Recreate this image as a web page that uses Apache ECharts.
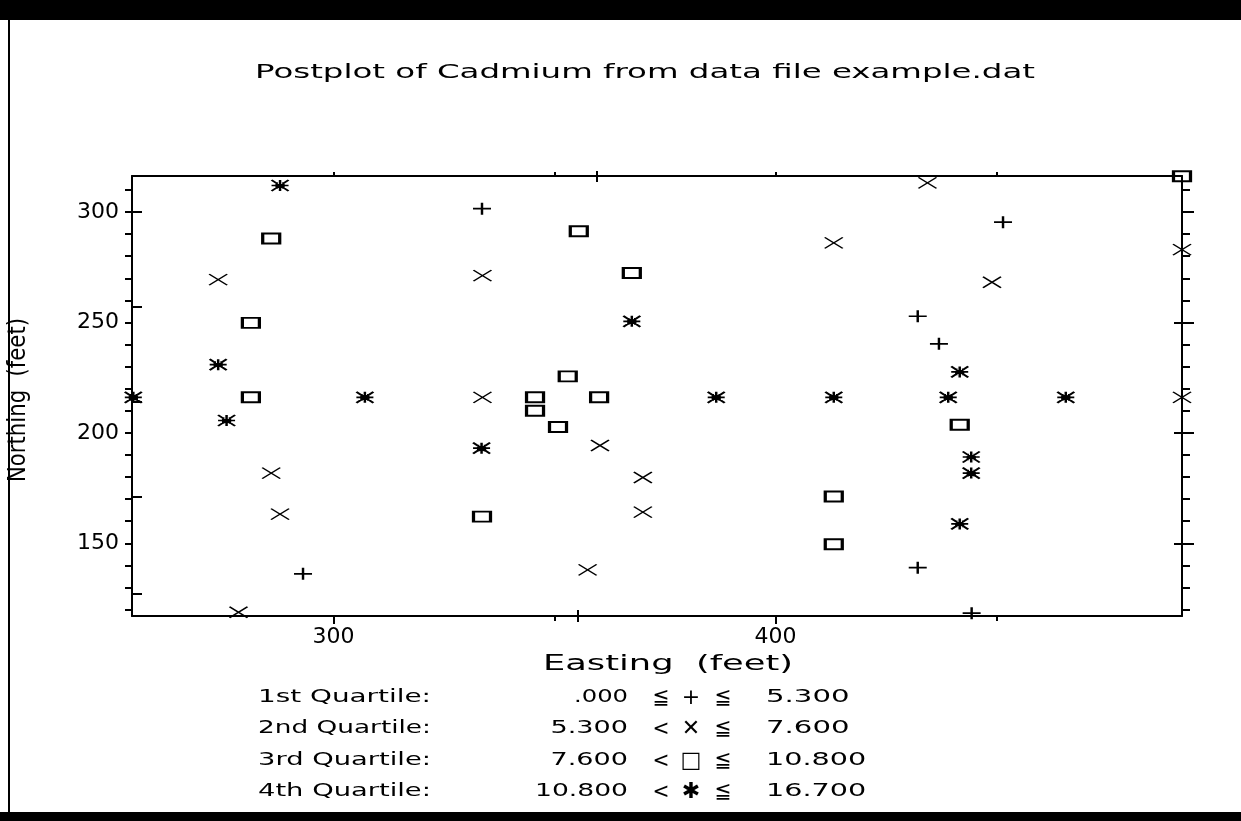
<!DOCTYPE html>
<html><head><meta charset="utf-8">
<script src="https://cdn.jsdelivr.net/npm/echarts@6/dist/echarts.min.js"></script>
<style>html,body{margin:0;padding:0;background:#fff}#c{width:1241px;height:821px}</style>
</head><body><div id="c"></div>
<script>
// ---------- data ----------
const titleText = 'Postplot of Cadmium from data file example.dat';
const xAxisName = 'Easting  (feet)';
const yAxisName = 'Northing  (feet)';
const xMin = 254.4, xMax = 492.0, yMin = 117.1, yMax = 316.3;
const xTickLabels = [300, 400];
const xMinorTicks = [350, 450];
const yTickLabels = [150, 200, 250, 300];
const yMinorTicks = [120,130,140,150,160,170,180,190,200,210,220,230,240,250,260,270,280,290,300,310];
const yOddTicks = [300, 257, 214, 171, 127];
const xOddTickBottom = [355.3];
const xOddTickTop = [359.6];

const quartileNames = ['1st Quartile:', '2nd Quartile:', '3rd Quartile:', '4th Quartile:'];
const lowerBounds = ['.000', '5.300', '7.600', '10.800'];
const lowerOps = ['\u2266', '<', '<', '<'];
const symbolGlyphs = ['+', '\u2715', '\u25A1', '\u2731'];
const upperOps = ['\u2266', '\u2266', '\u2266', '\u2266'];
const upperBounds = ['5.300', '7.600', '10.800', '16.700'];

// 1st quartile (+)
const plusX = [333.6, 293.1, 432.2, 437.0, 451.5, 432.2, 444.4];
const plusY = [301.5, 136.2, 252.8, 240.3, 295.4, 139.0, 118.4];
// 2nd quartile (x)
const crossX = [273.9, 285.9, 287.9, 278.5, 333.7, 333.7, 360.3, 370.0, 370.0, 357.5, 413.2, 434.4, 449.0, 492.0, 492.0];
const crossY = [269.4, 181.8, 163.2, 118.8, 271.2, 216.1, 194.3, 179.8, 164.1, 138.0, 286.0, 313.2, 268.2, 283.0, 216.1];
// 3rd quartile (square)
const squareX = [285.9, 281.3, 281.3, 333.6, 355.5, 367.5, 353.0, 345.6, 360.1, 345.6, 350.8, 413.2, 413.2, 441.7, 492.0];
const squareY = [288.0, 249.8, 216.1, 162.1, 291.3, 272.4, 225.6, 216.1, 216.1, 210.0, 202.7, 171.2, 149.6, 203.7, 316.2];
// 4th quartile (star)
const starX = [287.9, 273.9, 254.7, 307.1, 275.8, 333.5, 367.5, 386.6, 413.2, 439.1, 441.7, 465.7, 444.3, 444.3, 441.7];
const starY = [312.0, 230.9, 216.1, 216.1, 205.6, 193.1, 250.5, 216.1, 216.1, 216.1, 227.6, 216.1, 189.1, 181.8, 158.8];

// ---------- helpers ----------
const zip = (xs, ys) => xs.map((x, i) => [x, ys[i]]);
const FONT = '"DejaVu Sans", sans-serif';
const mctx = document.createElement('canvas').getContext('2d');
function scaleFor(str, size, width) {
  mctx.font = size + 'px ' + FONT;
  return width / mctx.measureText(str).width;
}
function txt(str, x, y, size, width, align, rot) {
  return {
    type: 'text', x: x, y: y, rotation: rot || 0,
    scaleX: width ? scaleFor(str, size, width) : 1,
    silent: true,
    style: { text: str, font: size + 'px ' + FONT, fill: '#000',
      textAlign: align || 'left', align: align || 'left',
      textVerticalAlign: 'middle', verticalAlign: 'middle' }
  };
}
function tickAxis(pos, values, len, inside, showLine, labels) {
  const isX = pos === 'bottom' || pos === 'top';
  return {
    type: 'value', position: pos,
    min: isX ? xMin : yMin, max: isX ? xMax : yMax,
    axisLine: { show: !!showLine, onZero: false, lineStyle: { color: '#000', width: 2 } },
    axisTick: { show: true, customValues: values, length: len, inside: inside,
      lineStyle: { color: '#000', width: 2 } },
    axisLabel: labels ? { show: true, customValues: labels, color: '#000',
      fontFamily: FONT, fontSize: 22, margin: isX ? 10 : 13 } : { show: false },
    splitLine: { show: false }
  };
}

const S_PLUS = 'path://M0,5L10,5M5,0L5,10';
const S_CROSS = 'path://M0,0L10,10M10,0L0,10';
const S_SQUARE = 'path://M0,0L10,0L10,10L0,10Z';
const S_STAR = 'path://M0,0L10,10M10,0L0,10M5,0L5,10M0,5L10,5M3,2L3,8M7,2L7,8';

function ser(name, data, sym, w, size) {
  return {
    name: name, type: 'scatter', data: data, symbol: sym, symbolSize: size || [18, 11],
    xAxisIndex: 0, yAxisIndex: 0, clip: false, silent: true, animation: false,
    itemStyle: { color: 'rgba(0,0,0,0)', borderColor: '#000', borderWidth: w, opacity: 1 },
    emphasis: { disabled: true }
  };
}

// ---------- frame / texts ----------
const graphics = [
  { type: 'rect', shape: { x: 0, y: 0, width: 1241, height: 20 }, style: { fill: '#000' }, silent: true },
  { type: 'rect', shape: { x: 0, y: 812, width: 1241, height: 9 }, style: { fill: '#000' }, silent: true },
  { type: 'rect', shape: { x: 8, y: 0, width: 2, height: 821 }, style: { fill: '#000' }, silent: true },
  txt(titleText, 645, 73, 20, 780, 'center'),
  txt(xAxisName, 668, 665, 21, 250, 'center'),
  txt(yAxisName, 18, 400, 25, 164, 'center', Math.PI / 2)
];
const rowY = [698, 729, 761, 792];
quartileNames.forEach((q, i) => {
  graphics.push(txt(q, 258, rowY[i], 17, q.length * 13.3, 'left'));
  graphics.push(txt(lowerBounds[i], 628, rowY[i], 17, lowerBounds[i].length * 15.5 - (lowerBounds[i][0] === '.' ? 8 : 0), 'right'));
  graphics.push(txt(lowerOps[i], 661, rowY[i], 22, 17, 'center'));
  graphics.push(txt(symbolGlyphs[i], 691, rowY[i], 22, 0, 'center'));
  graphics.push(txt(upperOps[i], 723, rowY[i], 22, 17, 'center'));
  graphics.push(txt(upperBounds[i], 766, rowY[i], 17, upperBounds[i].length * 16.7, 'left'));
});

const chart = echarts.init(document.getElementById('c'), null, { renderer: 'canvas' });
chart.setOption({
  animation: false,
  backgroundColor: '#fff',
  grid: { left: 132, right: 59, top: 176, bottom: 205, containLabel: false },
  xAxis: [
    tickAxis('bottom', xTickLabels, 8, false, true, xTickLabels),
    tickAxis('bottom', xMinorTicks, 5, false, false),
    tickAxis('bottom', xOddTickBottom, 6, false, false),
    tickAxis('bottom', xOddTickBottom, 6, true, false),
    tickAxis('top', xTickLabels.concat(xMinorTicks), 4, false, true),
    tickAxis('top', xOddTickTop, 5, false, false),
    tickAxis('top', xOddTickTop, 6, true, false)
  ],
  yAxis: [
    tickAxis('left', yMinorTicks, 7, false, true, yTickLabels),
    tickAxis('left', yOddTicks, 10, true, false),
    tickAxis('right', yMinorTicks, 8, false, true),
    tickAxis('right', yTickLabels, 12, false, false),
    tickAxis('right', [150, 200, 250], 8, true, false)
  ],
  graphic: { elements: graphics },
  series: [
    ser('1st Quartile', zip(plusX, plusY), S_PLUS, 2, [18, 12]),
    ser('2nd Quartile', zip(crossX, crossY), S_CROSS, 1.5, [18, 11]),
    ser('3rd Quartile', zip(squareX, squareY), S_SQUARE, 2.5, [17, 10]),
    ser('4th Quartile', zip(starX, starY), S_STAR, 2, [17, 11])
  ]
});
</script>
</body></html>
